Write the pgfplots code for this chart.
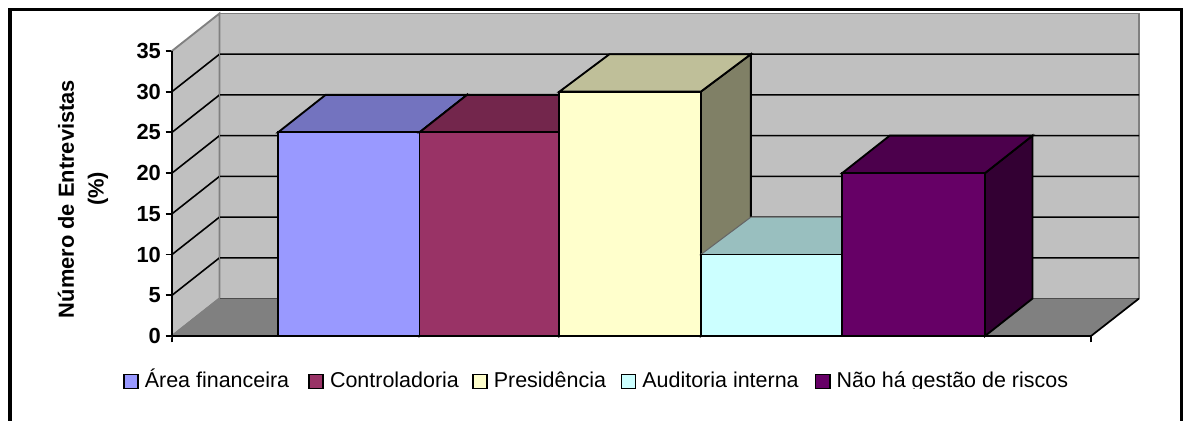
\documentclass[border=0pt]{standalone}
\usepackage{fontspec}
\setmainfont{Liberation Sans}
\usepackage{pgfplots}
\pgfplotsset{compat=1.18}
\definecolor{wall}{HTML}{C0C0C0}
\definecolor{floorc}{HTML}{808080}
\definecolor{aF}{HTML}{9999FF}\definecolor{aT}{HTML}{7373BF}\definecolor{aS}{HTML}{4D4D80}
\definecolor{bF}{HTML}{993366}\definecolor{bT}{HTML}{73264C}\definecolor{bS}{HTML}{4D1A33}
\definecolor{cF}{HTML}{FFFFCC}\definecolor{cT}{HTML}{BFBF99}\definecolor{cS}{HTML}{808066}
\definecolor{dF}{HTML}{CCFFFF}\definecolor{dT}{HTML}{99BFBF}\definecolor{dS}{HTML}{668080}
\definecolor{eF}{HTML}{660066}\definecolor{eT}{HTML}{4C004C}\definecolor{eS}{HTML}{330033}
\begin{document}
\begin{tikzpicture}[x=0.75pt,y=0.75pt]
\path[use as bounding box] (0,0) rectangle (1183,421);
\begin{axis}[
  at={(129pt,63.75pt)}, anchor=south west,
  scale only axis, width=725.25pt, height=241.9pt,
  xmin=-1.25, xmax=5.589, ymin=0, ymax=39.6,
  clip=false,
  axis lines*=left,
  axis line style={draw=none,-},
  xtick={-1.25,5.25}, xticklabels={},
  ytick={0,5,10,15,20,25,30,35},
  tick align=outside,
  major tick length=4.8pt,
  tick style={black,line width=1.4pt},
  yticklabel style={font=\fontsize{16.4}{18}\selectfont\bfseries,xshift=0pt},
  /pgf/number format/assume math mode=true,
  legend columns=5,
  legend cell align=left,
  legend style={at={(-0.0507,-0.141)},anchor=west,draw=none,fill=none,inner sep=0pt,outer sep=0pt,
    font=\fontsize{16.1}{18}\selectfont,
    nodes={inner sep=0pt,outer sep=0pt,text height=12.2pt,text depth=3.6pt},
    /tikz/every odd column/.append style={column sep=4.5pt},
    /tikz/column 2/.append style={column sep=14.2pt},
    /tikz/column 4/.append style={column sep=9.8pt},
    /tikz/column 6/.append style={column sep=10.9pt},
    /tikz/column 8/.append style={column sep=12pt}},
  legend image code/.code={\draw[#1] (0pt,-5.3pt) rectangle (10.6pt,5.3pt);},
]
% walls and floor
\addplot[forget plot,fill=wall,draw=floorc,line width=1.4pt] coordinates {(-0.914,4.6)(5.589,4.6)(5.589,39.6)(-0.914,39.6)} -- cycle;
\addplot[forget plot,fill=wall,draw=floorc,line width=1.4pt] coordinates {(-1.25,0)(-0.914,4.6)(-0.914,39.6)(-1.25,35)} -- cycle;
\addplot[forget plot,fill=floorc,draw=none] coordinates {(-1.25,0)(5.25,0)(5.589,4.6)(-0.914,4.6)} -- cycle;
\addplot[forget plot,draw=black!70,line width=1pt] coordinates {(-0.914,4.6)(5.589,4.6)};
\addplot[forget plot,draw=floorc,line width=1.4pt] coordinates {(-1.25,0)(-0.914,4.6)};
\addplot[forget plot,draw=black,line width=1.3pt] coordinates {(5.25,0)(5.589,4.6)};
% gridlines
\addplot[forget plot,black,line width=1.2pt] coordinates {(-1.25,5)(-0.914,9.6)(5.589,9.6)};
\addplot[forget plot,black,line width=1.2pt] coordinates {(-1.25,10)(-0.914,14.6)(5.589,14.6)};
\addplot[forget plot,black,line width=1.2pt] coordinates {(-1.25,15)(-0.914,19.6)(5.589,19.6)};
\addplot[forget plot,black,line width=1.2pt] coordinates {(-1.25,20)(-0.914,24.6)(5.589,24.6)};
\addplot[forget plot,black,line width=1.2pt] coordinates {(-1.25,25)(-0.914,29.6)(5.589,29.6)};
\addplot[forget plot,black,line width=1.2pt] coordinates {(-1.25,30)(-0.914,34.6)(5.589,34.6)};
\addplot[forget plot,floorc,line width=1.4pt] coordinates {(-0.914,4.6)(-0.914,39.6)};
% bar 1: 25
\addplot[forget plot,fill=aS,draw=black,line width=1.4pt] coordinates {(0.5,0)(0.836,4.6)(0.836,29.6)(0.5,25)} -- cycle;
\addplot[forget plot,fill=aT,draw=black,line width=1.4pt] coordinates {(-0.5,25)(0.5,25)(0.836,29.6)(-0.164,29.6)} -- cycle;
\addplot[forget plot,fill=aF,draw=black,line width=1.4pt] coordinates {(-0.5,0)(0.5,0)(0.5,25)(-0.5,25)} -- cycle;
% bar 2: 25
\addplot[forget plot,fill=bS,draw=black,line width=1.4pt] coordinates {(1.49,0)(1.826,4.6)(1.826,29.6)(1.49,25)} -- cycle;
\addplot[forget plot,fill=bT,draw=black,line width=1.4pt] coordinates {(0.5,25)(1.49,25)(1.826,29.6)(0.836,29.6)} -- cycle;
\addplot[forget plot,fill=bF,draw=black,line width=1.4pt] coordinates {(0.5,0)(1.49,0)(1.49,25)(0.5,25)} -- cycle;
% bar 3: 30
\addplot[forget plot,fill=cS,draw=black,line width=1.4pt] coordinates {(2.49,0)(2.844,4.6)(2.844,34.6)(2.49,30)} -- cycle;
\addplot[forget plot,fill=cT,draw=black,line width=1.4pt] coordinates {(1.49,30)(2.49,30)(2.844,34.6)(1.844,34.6)} -- cycle;
\addplot[forget plot,fill=cF,draw=black,line width=1.4pt] coordinates {(1.49,0)(2.49,0)(2.49,30)(1.49,30)} -- cycle;
% bar 4: 10
\addplot[forget plot,fill=dT,draw=black!60,line width=0.8pt] coordinates {(2.49,10)(3.49,10)(3.844,14.6)(2.844,14.6)} -- cycle;
\addplot[forget plot,fill=dF,draw=black,line width=1.4pt] coordinates {(2.49,0)(3.49,0)(3.49,10)(2.49,10)} -- cycle;
% bar 5: 20
\addplot[forget plot,fill=eS,draw=black,line width=1.4pt] coordinates {(4.5,0)(4.836,4.6)(4.836,24.6)(4.5,20)} -- cycle;
\addplot[forget plot,fill=eT,draw=black,line width=1.4pt] coordinates {(3.49,20)(4.5,20)(4.836,24.6)(3.826,24.6)} -- cycle;
\addplot[forget plot,fill=eF,draw=black,line width=1.4pt] coordinates {(3.49,0)(4.5,0)(4.5,20)(3.49,20)} -- cycle;
% axis lines
\addplot[forget plot,black,line width=1.5pt] coordinates {(-1.25,35)(-1.25,0)(5.25,0)};
% legend
\addlegendimage{fill=aF,draw=black,line width=1.3pt}
\addlegendimage{fill=bF,draw=black,line width=1.3pt}
\addlegendimage{fill=cF,draw=black,line width=1.3pt}
\addlegendimage{fill=dF,draw=black,line width=1.3pt}
\addlegendimage{fill=eF,draw=black,line width=1.3pt}
\legend{Área financeira,Controladoria,Presidência,Auditoria interna,Não há gestão de riscos}
\end{axis}
% axis title
\node[rotate=90,anchor=center,font=\fontsize{16.4}{18}\selectfont\bfseries] at (66,222) {Número de Entrevistas};
\node[rotate=90,anchor=center,font=\fontsize{16.4}{18}\selectfont\bfseries] at (98,232) {(\%)};
% clipped descender in the last legend entry
\fill[white] (800,20) rectangle (1080,32);
% outer frame (open at the bottom)
\fill[black] (8,0) rectangle (12,413);
\fill[black] (8,409.5) rectangle (1182.5,413);
\fill[black] (1179.8,0) rectangle (1182.5,413);
\end{tikzpicture}
\end{document}
